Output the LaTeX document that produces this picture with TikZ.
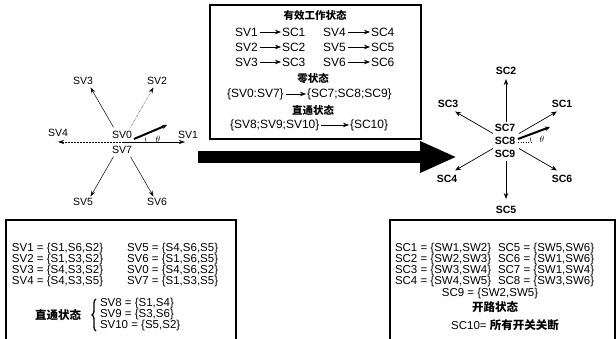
\documentclass[tikz,border=0pt]{standalone}
\usepackage{fontspec}
\setmainfont{Liberation Sans}
\newfontfamily\cjk{Noto Sans CJK SC}
\usetikzlibrary{arrows.meta,decorations.pathreplacing}
\begin{document}
\begin{tikzpicture}[x=1pt,y=-1pt,
  every node/.style={inner sep=0pt,outer sep=0pt},
  lab/.style={font=\fontsize{10.5}{10.5}\selectfont},
  blab/.style={font=\fontsize{10.5}{10.5}\selectfont\bfseries},
  tb/.style={font=\fontsize{12}{12}\selectfont,anchor=west},
  bt/.style={font=\fontsize{11.5}{11.5}\selectfont,anchor=west},
  cn/.style={font=\fontsize{10.5}{10.5}\selectfont\cjk\bfseries},
  cnb/.style={font=\fontsize{11.5}{11.5}\selectfont\cjk\bfseries},
  sa/.style={line width=0.5pt,-{Stealth[length=6pt,width=4pt]}},
  ra/.style={line width=0.7pt,-{Stealth[length=6pt,width=4.5pt]}},
  ta/.style={line width=0.6pt,-{Stealth[length=6pt,width=4.5pt]}},
  vec/.style={line width=2pt,-{Stealth[length=5pt,width=4.5pt]}},
  box/.style={draw,line width=1.2pt},
]
\useasboundingbox (0,0) rectangle (616,339);

% ---------- top box ----------
\draw[box,line width=1.5pt] (210,5) rectangle (421,139);
\node[cn] (h1) at (315,15) {有效工作状态};
\node[tb] (a1) at (235,32) {SV1};
\node[tb] (b1) at (282,32) {SC1};
\node[tb] (a4) at (323,32) {SV4};
\node[tb] (b4) at (371,32) {SC4};
\node[tb] (a2) at (235,47) {SV2};
\node[tb] (b2) at (282,47) {SC2};
\node[tb] (a5) at (323,47) {SV5};
\node[tb] (b5) at (371,47) {SC5};
\node[tb] (a3) at (235,62) {SV3};
\node[tb] (b3) at (282,62) {SC3};
\node[tb] (a6) at (323,62) {SV6};
\node[tb] (b6) at (371,62) {SC6};
\foreach \i in {1,...,6}{\draw[ta] ([xshift=2pt]a\i.east) -- ([xshift=-1pt]b\i.west);}
\node[cn] (h2) at (313,79) {零状态};
\node[tb] (z1) at (227,94) {\{SV0:SV7\}};
\node[tb] (z2) at (307,94) {\{SC7;SC8;SC9\}};
\draw[ta] ([xshift=2pt]z1.east) -- ([xshift=-1pt]z2.west);
\node[cn] (h3) at (313,110) {直通状态};
\node[tb] (d1) at (230,125) {\{SV8;SV9;SV10\}};
\node[tb] (d2) at (350,125) {\{SC10\}};
\draw[ta] ([xshift=2pt]d1.east) -- ([xshift=-1pt]d2.west);

% ---------- big arrow ----------
\coordinate (BA) at (198,157);
\coordinate (BB) at (457,157);
\draw[line width=12pt,-{Triangle[length=37pt,width=29pt]}] (BA) -- (BB);

% ---------- left star ----------
\coordinate (O1) at (122,142);
\coordinate (t1) at (185,142);
\coordinate (t4) at (58,142);
\coordinate (s2) at (130.5,127.3); \coordinate (t2) at (153.5,87.4);
\coordinate (s3) at (113.5,127.3); \coordinate (t3) at (90.5,87.4);
\coordinate (s5) at (113.5,156.7); \coordinate (t5) at (90.5,196.6);
\coordinate (s6) at (130.5,156.7); \coordinate (t6) at (153.5,196.6);
\draw[sa] (O1) -- (t1);
\draw[sa,densely dotted] (O1) -- (t4);
\draw[sa,densely dotted] (s2) -- (t2);
\draw[sa] (s3) -- (t3);
\draw[sa] (s5) -- (t5);
\draw[sa] (s6) -- (t6);
\node[lab] (SV1) at (188,135) {SV1};
\node[lab] (SV2) at (157,81) {SV2};
\node[lab] (SV3) at (83,81) {SV3};
\node[lab] (SV4) at (58,133) {SV4};
\node[lab] (SV5) at (83,202) {SV5};
\node[lab] (SV6) at (157,202) {SV6};
\node[lab] (SV0) at (122,135) {SV0};
\node[lab] (SV7) at (122,150) {SV7};
\coordinate (v1s) at (134,139);
\coordinate (v1e) at (167,125);
\draw[vec] (v1s) -- (v1e);
\draw[line width=0.5pt] (146,142) arc[start angle=0,end angle=-22,radius=12];
\node[font=\fontsize{9}{9}\selectfont] (th1) at (158,139) {$\theta$};

% ---------- right star ----------
\coordinate (O2) at (506,141);
\coordinate (r1s) at (519,133.5); \coordinate (r1e) at (557,111.5);
\coordinate (r3s) at (493,133.5); \coordinate (r3e) at (455,111.5);
\coordinate (r4s) at (493,148.5); \coordinate (r4e) at (455,170.5);
\coordinate (r6s) at (519,148.5); \coordinate (r6e) at (557,170.5);
\coordinate (r2s) at (506,122);   \coordinate (r2e) at (506,79);
\coordinate (r5s) at (506,161);   \coordinate (r5e) at (506,199);
\draw[ra] (r1s) -- (r1e);
\draw[ra] (r3s) -- (r3e);
\draw[ra] (r4s) -- (r4e);
\draw[ra] (r6s) -- (r6e);
\draw[ra,line width=1pt] (r2s) -- (r2e);
\draw[ra,line width=1pt] (r5s) -- (r5e);
\node[blab] (SC1) at (562,104) {SC1};
\node[blab] (SC2) at (506,71) {SC2};
\node[blab] (SC3) at (448,104) {SC3};
\node[blab] (SC4) at (447,179) {SC4};
\node[blab] (SC5) at (506,210) {SC5};
\node[blab] (SC6) at (562,179) {SC6};
\node[blab] (SC7) at (505,128) {SC7};
\node[blab] (SC8) at (505,141) {SC8};
\node[blab] (SC9) at (505,154) {SC9};
\coordinate (v2s) at (518,139);
\coordinate (v2e) at (550,127);
\coordinate (h2e) at (532,142);
\draw[vec] (v2s) -- (v2e);
\draw[line width=0.5pt,dotted] (v2s|-h2e) -- (h2e);
\draw[line width=0.5pt] (531,142) arc[start angle=0,end angle=-22,radius=12];
\node[font=\fontsize{9}{9}\selectfont] (th2) at (542,139) {$\theta$};

% ---------- bottom left box ----------
\draw[box] (6,339) -- (6,220) -- (236,220) -- (236,339);
\node[bt] (l1) at (12,249) {SV1 = \{S1,S6,S2\}};
\node[bt] (l2) at (12,260) {SV2 = \{S1,S3,S2\}};
\node[bt] (l3) at (12,271) {SV3 = \{S4,S3,S2\}};
\node[bt] (l4) at (12,282) {SV4 = \{S4,S3,S5\}};
\node[bt] (l5) at (127,249) {SV5 = \{S4,S6,S5\}};
\node[bt] (l6) at (127,260) {SV6 = \{S1,S6,S5\}};
\node[bt] (l0) at (127,271) {SV0 = \{S4,S6,S2\}};
\node[bt] (l7) at (127,282) {SV7 = \{S1,S3,S5\}};
\node[cnb] (zt) at (58,315) {直通状态};
\draw[decorate,decoration={brace,amplitude=4pt},line width=1.3pt] (96,331) -- (96,299);
\node[bt] (l8) at (100,304) {SV8 = \{S1,S4\}};
\node[bt] (l9) at (100,315) {SV9 = \{S3,S6\}};
\node[bt] (l10) at (100,326) {SV10 = \{S5,S2\}};

% ---------- bottom right box ----------
\draw[box] (390,339) -- (390,220) -- (615,220) -- (615,339);
\node[bt] (c1) at (395,249) {SC1 = \{SW1,SW2\}};
\node[bt] (c2) at (395,260) {SC2 = \{SW2,SW3\}};
\node[bt] (c3) at (395,271) {SC3 = \{SW3,SW4\}};
\node[bt] (c4) at (395,282) {SC4 = \{SW4,SW5\}};
\node[bt] (c5) at (498,249) {SC5 = \{SW5,SW6\}};
\node[bt] (c6) at (498,260) {SC6 = \{SW1,SW6\}};
\node[bt] (c7) at (498,271) {SC7 = \{SW1,SW4\}};
\node[bt] (c8) at (498,282) {SC8 = \{SW3,SW6\}};
\node[font=\fontsize{11.5}{11.5}\selectfont] (c9) at (490,294) {SC9 = \{SW2,SW5\}};
\node[cnb] (kl) at (495,307) {开路状态};
\node[font=\fontsize{11.5}{11.5}\selectfont] (c10) at (505,325) {SC10= {\cjk\bfseries 所有开关关断}};
\end{tikzpicture}
\end{document}
